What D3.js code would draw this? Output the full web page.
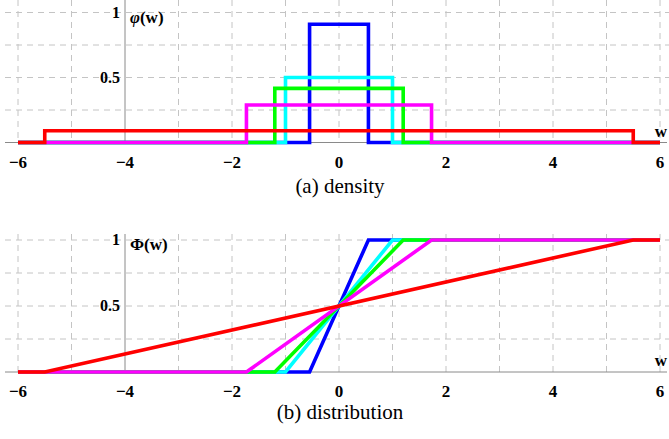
<!DOCTYPE html>
<html>
<head>
<meta charset="utf-8">
<script src="https://cdn.jsdelivr.net/npm/d3@7"></script>
<style>
  html, body { margin: 0; padding: 0; background: #fff; }
  svg { display: block; }
</style>
</head>
<body>
<svg id="chart" width="669" height="439"></svg>
<script>
// Uniform distributions on [-a, a]; density 1/(2a), CDF linear from -a to a
const seriesNames = ["blue", "cyan", "green", "magenta", "red"];
const halfWidths  = [0.55, 1.0, 1.2, 1.73, 5.5];
const colors      = ["#0000ff", "#00ffff", "#00ff00", "#ff00ff", "#ff0000"];
const xTicks      = [-6, -4, -2, 0, 2, 4, 6];
const xGrid       = [-6, -5, -4, -3, -2, -1, 0, 1, 2, 3, 4, 5, 6];
const yGrid       = [0.25, 0.5, 0.75, 1];
const yTickLabels = [{v: 0.5, t: "0.5"}, {v: 1, t: "1"}];
const xDomain     = [-6, 6];
const yAxisAt     = -4;

const SERIF = "'Liberation Serif', 'DejaVu Serif', 'Times New Roman', serif";

const svg = d3.select("#chart");
const x = d3.scaleLinear().domain(xDomain).range([18, 660]);

function densityPoints(a) {
  const h = 1 / (2 * a);
  return [[-6, 0], [-a, 0], [-a, h], [a, h], [a, 0], [6, 0]];
}
function cdfPoints(a) {
  return [[-6, 0], [-a, 0], [a, 1], [6, 1]];
}

function label(sel) {
  return sel.attr("font-family", SERIF).attr("font-weight", "bold")
    .attr("font-size", 16).attr("fill", "#000");
}

function panel(cfg) {
  const y = d3.scaleLinear().domain([0, 1]).range([cfg.y0, cfg.y1]);
  const g = svg.append("g");

  // grid
  g.append("g").selectAll("line").data(yGrid).join("line")
    .attr("x1", 5).attr("x2", 669)
    .attr("y1", d => y(d)).attr("y2", d => y(d))
    .attr("stroke", "#c4c4c4").attr("stroke-width", 1)
    .attr("stroke-dasharray", "6,5");
  g.append("g").selectAll("line").data(xGrid.filter(d => d !== yAxisAt)).join("line")
    .attr("x1", d => x(d)).attr("x2", d => x(d))
    .attr("y1", cfg.gridTop).attr("y2", y(0))
    .attr("stroke", "#c4c4c4").attr("stroke-width", 1)
    .attr("stroke-dasharray", "6,5");

  // axes
  g.append("line")
    .attr("x1", 5).attr("x2", 667)
    .attr("y1", y(0)).attr("y2", y(0))
    .attr("stroke", "#8a8a8a").attr("stroke-width", 1);
  g.append("line")
    .attr("x1", x(yAxisAt)).attr("x2", x(yAxisAt))
    .attr("y1", cfg.gridTop).attr("y2", y(0))
    .attr("stroke", "#8a8a8a").attr("stroke-width", 1);

  // curves
  const line = d3.line().x(d => x(d[0])).y(d => y(d[1]));
  g.append("g").selectAll("path").data(halfWidths).join("path")
    .attr("d", a => line(cfg.points(a)))
    .attr("fill", "none")
    .attr("stroke", (a, i) => colors[i])
    .attr("stroke-width", 3.6)
    .attr("stroke-linejoin", "miter")
    .attr("stroke-linecap", "butt");

  // tick labels
  label(g.append("g").selectAll("text").data(xTicks).join("text"))
    .attr("font-size", 17)
    .attr("x", d => x(d)).attr("y", y(0) + 25)
    .attr("text-anchor", "middle")
    .text(d => d < 0 ? "\u2212" + Math.abs(d) : d);
  label(g.append("g").selectAll("text").data(yTickLabels).join("text"))
    .attr("x", x(yAxisAt) - 5).attr("y", d => y(d.v) + 5)
    .attr("text-anchor", "end")
    .text(d => d.t);

  // axis titles
  const yl = label(g.append("text"))
    .attr("x", x(yAxisAt) + 5).attr("y", y(1) + 10).attr("font-size", 17);
  yl.append("tspan").attr("font-style", cfg.symItalic ? "italic" : "normal").text(cfg.sym);
  yl.append("tspan").text("(w)");
  label(g.append("text"))
    .attr("x", 661).attr("y", y(0) - 6)
    .attr("text-anchor", "middle").attr("font-size", 17)
    .text("w");

  // caption
  g.append("text")
    .attr("font-family", SERIF).attr("font-size", 21).attr("fill", "#000")
    .attr("x", 340).attr("y", cfg.captionY)
    .attr("text-anchor", "middle")
    .text(cfg.caption);
}

panel({ y0: 142.5, y1: 12.5, gridTop: 0, points: densityPoints,
        sym: "\u03C6", symItalic: true, caption: "(a) density", captionY: 193 });
panel({ y0: 372, y1: 240, gridTop: 234, points: cdfPoints,
        sym: "\u03A6", symItalic: false, caption: "(b) distribution", captionY: 419 });
</script>
</body>
</html>
